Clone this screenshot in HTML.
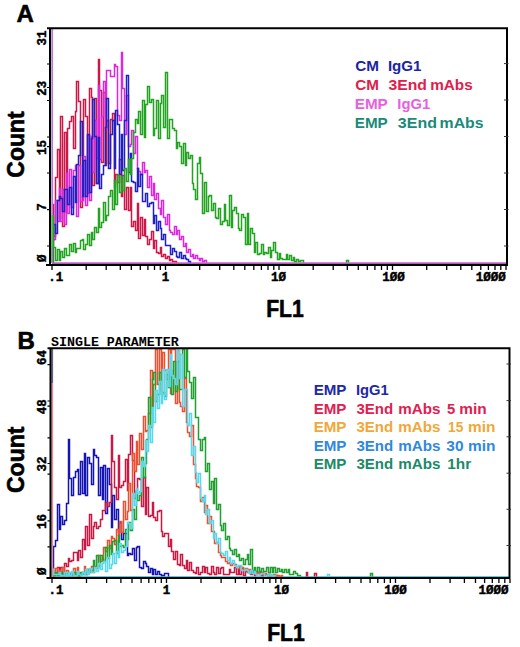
<!DOCTYPE html>
<html><head><meta charset="utf-8"><style>
html,body{margin:0;padding:0;background:#fff;width:520px;height:647px;overflow:hidden}
svg{display:block}
</style></head><body>
<svg width="520" height="647" viewBox="0 0 520 647">
<path d="M52 263.2H506" stroke="#a020a8" stroke-width="1.3" fill="none"/>
<path d="M52 576.6H509" stroke="#50d0e0" stroke-width="1.2" fill="none"/>
<g fill="none" stroke-width="1.5">
<path d="M52.6 262.5V204.5H53.5V236.5H55.5V177.5H57.5V149.5H59.5V218.5H60.5V116.5H62.5V226.5H64.5V132.5H66.5V212.5H67.5V128.5H69.5V121.5H71.5V116.5H73.5V148.5H75.5V111.5H76.5V81.5H78.5V101.5H80.5V207.5H82.5V197.5H83.5V99.5H85.5V116.5H87.5V193.5H89.5V88.5H91.5V97.5H92.5V185.5H94.5V98.5H96.5V183.5H98.5V59.5H99.5V90.5H101.5V162.5H103.5V92.5H105.5V165.5H106.5V120.5H108.5V163.5H110.5V119.5H112.5V113.5H114.5V187.5H115.5V174.5H117.5V182.5H119.5V159.5H121.5V196.5H122.5V175.5H124.5V209.5H126.5V187.5H128.5V210.5H130.5V187.5H131.5V226.5H133.5V221.5H135.5V230.5H137.5V203.5H138.5V238.5H140.5V217.5H142.5V235.5H144.5V219.5H145.5V236.5H147.5V244.5H149.5V239.5H151.5V231.5H153.5V248.5H154.5V240.5H156.5V252.5H158.5V253.5H160.5V247.5H161.5V256.5H163.5V254.5H165.5V258.5H167.5V256.5H169.5V260.5H170.5V259.5H172.5V261.5H176.5V262.5" stroke="#cc1848"/>
<path d="M53.5 262.5V239.5H55.5V200.5H57.5V221.5H59.5V188.5H60.5V221.5H62.5V189.5H64.5V224.5H66.5V173.5H67.5V213.5H69.5V169.5H71.5V207.5H73.5V170.5H75.5V165.5H76.5V216.5H78.5V165.5H80.5V201.5H82.5V200.5H83.5V156.5H85.5V205.5H87.5V135.5H89.5V200.5H91.5V136.5H92.5V172.5H94.5V120.5H96.5V158.5H98.5V85.5H99.5V159.5H101.5V116.5H103.5V81.5H105.5V128.5H106.5V70.5H110.5V76.5H114.5V64.5H115.5V66.5H117.5V115.5H119.5V120.5H121.5V52.5H122.5V88.5H124.5V134.5H126.5V95.5H128.5V146.5H130.5V144.5H131.5V130.5H133.5V153.5H135.5V136.5H137.5V168.5H138.5V171.5H140.5V174.5H142.5V162.5H144.5V172.5H145.5V170.5H147.5V187.5H149.5V176.5H151.5V195.5H153.5V183.5H154.5V199.5H156.5V193.5H158.5V208.5H160.5V214.5H161.5V200.5H163.5V217.5H165.5V224.5H167.5V214.5H169.5V230.5H170.5V232.5H172.5V234.5H174.5V226.5H176.5V234.5H177.5V230.5H179.5V239.5H181.5V236.5H183.5V246.5H185.5V243.5H186.5V252.5H188.5V249.5H190.5V256.5H192.5V254.5H193.5V258.5H195.5V255.5H197.5V258.5H199.5V260.5H200.5V258.5H202.5V261.5H204.5V260.5H206.5V262.5" stroke="#dc28dc"/>
<path d="M52.6 262.5V240.5H53.5V224.5H55.5V233.5H57.5V200.5H59.5V196.5H60.5V198.5H62.5V211.5H64.5V189.5H67.5V204.5H69.5V187.5H71.5V214.5H73.5V176.5H75.5V202.5H76.5V164.5H78.5V155.5H80.5V121.5H82.5V196.5H83.5V160.5H85.5V196.5H87.5V134.5H89.5V192.5H91.5V138.5H92.5V99.5H94.5V136.5H96.5V183.5H98.5V137.5H99.5V188.5H101.5V174.5H103.5V165.5H105.5V127.5H106.5V98.5H108.5V168.5H110.5V134.5H112.5V120.5H114.5V168.5H115.5V110.5H117.5V124.5H119.5V174.5H121.5V134.5H122.5V170.5H124.5V120.5H126.5V75.5H128.5V172.5H130.5V153.5H131.5V181.5H133.5V182.5H135.5V191.5H137.5V168.5H138.5V186.5H140.5V174.5H142.5V201.5H145.5V193.5H147.5V206.5H149.5V203.5H151.5V202.5H153.5V223.5H154.5V215.5H156.5V230.5H158.5V221.5H160.5V228.5H161.5V239.5H163.5V234.5H165.5V245.5H170.5V254.5H172.5V248.5H174.5V251.5H176.5V256.5H177.5V257.5H179.5V252.5H181.5V258.5H183.5V255.5H185.5V258.5H186.5V259.5H188.5V261.5H190.5V262.5" stroke="#2020c4"/>
<path d="M52.6 262.5V215.5H53.5V247.5H55.5V260.5H57.5V249.5H59.5V260.5H60.5V251.5H62.5V257.5H64.5V248.5H66.5V255.5H69.5V244.5H71.5V251.5H73.5V243.5H75.5V252.5H76.5V248.5H80.5V240.5H82.5V239.5H83.5V249.5H85.5V244.5H87.5V234.5H89.5V245.5H91.5V232.5H92.5V239.5H94.5V227.5H96.5V232.5H98.5V208.5H99.5V227.5H101.5V222.5H103.5V202.5H105.5V220.5H106.5V215.5H108.5V196.5H110.5V190.5H112.5V209.5H114.5V180.5H115.5V204.5H117.5V175.5H119.5V192.5H121.5V176.5H122.5V190.5H124.5V168.5H126.5V181.5H128.5V159.5H130.5V174.5H131.5V158.5H133.5V132.5H135.5V119.5H137.5V123.5H138.5V111.5H140.5V134.5H142.5V100.5H144.5V137.5H145.5V104.5H147.5V86.5H149.5V102.5H151.5V99.5H153.5V135.5H154.5V128.5H156.5V100.5H158.5V138.5H160.5V103.5H161.5V95.5H163.5V127.5H165.5V72.5H167.5V138.5H169.5V119.5H172.5V128.5H174.5V130.5H176.5V148.5H177.5V142.5H179.5V146.5H181.5V163.5H183.5V143.5H185.5V165.5H186.5V152.5H188.5V158.5H190.5V155.5H192.5V183.5H193.5V189.5H195.5V199.5H197.5V163.5H199.5V157.5H200.5V173.5H202.5V213.5H204.5V182.5H206.5V211.5H208.5V196.5H209.5V195.5H211.5V210.5H213.5V203.5H215.5V217.5H216.5V218.5H218.5V208.5H220.5V224.5H222.5V221.5H224.5V204.5H225.5V220.5H227.5V225.5H229.5V195.5H231.5V227.5H232.5V210.5H234.5V207.5H236.5V213.5H238.5V228.5H239.5V230.5H241.5V214.5H243.5V217.5H245.5V244.5H247.5V213.5H248.5V244.5H250.5V228.5H252.5V233.5H254.5V252.5H255.5V242.5H257.5V254.5H259.5V253.5H261.5V244.5H263.5V254.5H264.5V252.5H266.5V253.5H268.5V247.5H270.5V257.5H271.5V250.5H273.5V242.5H275.5V252.5H277.5V259.5H279.5V253.5H280.5V258.5H282.5V259.5H286.5V254.5H287.5V259.5H289.5V255.5H291.5V260.5H293.5V257.5H294.5V261.5H296.5V259.5H298.5V261.5H300.5V260.5H303.5V262.5M346.5 262.5V260.5H348.5V262.5" stroke="#22a422"/>
</g>
<g fill="none" stroke-width="1.5">
<path d="M53.5 576.5V546.5H55.5V540.5H57.5V504.5H59.5V529.5H60.5V516.5H62.5V524.5H64.5V520.5H66.5V503.5H68.5V439.5H69.5V478.5H71.5V495.5H73.5V477.5H75.5V471.5H77.5V469.5H78.5V494.5H80.5V461.5H82.5V493.5H84.5V453.5H85.5V495.5H87.5V457.5H89.5V463.5H91.5V484.5H93.5V449.5H94.5V455.5H96.5V457.5H98.5V495.5H100.5V467.5H102.5V499.5H103.5V465.5H105.5V513.5H107.5V468.5H109.5V484.5H111.5V527.5H112.5V495.5H114.5V519.5H116.5V509.5H118.5V532.5H119.5V522.5H121.5V539.5H123.5V533.5H127.5V555.5H128.5V553.5H130.5V554.5H132.5V548.5H134.5V560.5H136.5V547.5H137.5V546.5H139.5V567.5H141.5V568.5H143.5V561.5H145.5V563.5H146.5V566.5H148.5V572.5H150.5V568.5H152.5V574.5H153.5V569.5H155.5V574.5H157.5V571.5H159.5V574.5H161.5V575.5H164.5V573.5H168.5V576.5" stroke="#1414b4"/>
<path d="M53.5 576.5V574.5H55.5V573.5H57.5V567.5H59.5V571.5H60.5V567.5H62.5V575.5H64.5V563.5H66.5V566.5H68.5V558.5H69.5V561.5H71.5V560.5H73.5V552.5H77.5V560.5H78.5V550.5H80.5V557.5H82.5V539.5H84.5V549.5H85.5V526.5H87.5V545.5H89.5V514.5H91.5V538.5H93.5V526.5H94.5V522.5H96.5V528.5H98.5V526.5H100.5V519.5H102.5V510.5H105.5V502.5H107.5V506.5H109.5V502.5H111.5V435.5H112.5V461.5H114.5V487.5H116.5V499.5H118.5V455.5H119.5V487.5H121.5V485.5H123.5V481.5H125.5V459.5H127.5V490.5H128.5V454.5H130.5V435.5H132.5V460.5H134.5V498.5H136.5V490.5H137.5V478.5H139.5V479.5H141.5V506.5H143.5V477.5H145.5V514.5H146.5V487.5H148.5V516.5H150.5V515.5H152.5V502.5H153.5V517.5H155.5V520.5H157.5V511.5H159.5V510.5H161.5V531.5H162.5V536.5H164.5V533.5H168.5V546.5H170.5V539.5H171.5V551.5H173.5V559.5H175.5V551.5H177.5V564.5H179.5V565.5H180.5V554.5H182.5V565.5H184.5V568.5H186.5V560.5H187.5V570.5H189.5V562.5H191.5V570.5H193.5V572.5H195.5V573.5H196.5V567.5H198.5V574.5H200.5V572.5H202.5V566.5H204.5V572.5H205.5V567.5H207.5V573.5H209.5V574.5H211.5V566.5H213.5V572.5H214.5V574.5H216.5V567.5H218.5V573.5H220.5V568.5H221.5V567.5H223.5V574.5H229.5V569.5H230.5V572.5H234.5V567.5H236.5V574.5H238.5V569.5H239.5V574.5H241.5V568.5H243.5V575.5H245.5V571.5H247.5V570.5H250.5V574.5H252.5V571.5H254.5V575.5H255.5V571.5H257.5V574.5H259.5V572.5H261.5V575.5H263.5V573.5H264.5V575.5H268.5V574.5H270.5V576.5M275.5 576.5V575.5H277.5V576.5M306.5 576.5V572.5H307.5V576.5M314.5 576.5V573.5H316.5V576.5" stroke="#c81844"/>
<path d="M52.6 576.5V568.5H53.5V575.5H55.5V568.5H57.5V575.5H59.5V570.5H60.5V573.5H62.5V567.5H64.5V573.5H66.5V570.5H68.5V575.5H69.5V573.5H71.5V575.5H73.5V568.5H75.5V575.5H77.5V567.5H78.5V576.5H80.5V574.5H82.5V572.5H84.5V566.5H85.5V574.5H87.5V569.5H89.5V572.5H91.5V566.5H93.5V572.5H94.5V567.5H96.5V568.5H98.5V555.5H100.5V561.5H102.5V559.5H103.5V547.5H105.5V551.5H107.5V540.5H109.5V548.5H111.5V536.5H112.5V538.5H114.5V544.5H116.5V529.5H118.5V535.5H119.5V521.5H121.5V532.5H123.5V501.5H125.5V519.5H127.5V511.5H128.5V483.5H130.5V510.5H132.5V453.5H134.5V471.5H136.5V441.5H137.5V464.5H139.5V433.5H141.5V449.5H143.5V416.5H145.5V431.5H146.5V430.5H148.5V413.5H150.5V370.5H152.5V406.5H153.5V384.5H155.5V349.5H157.5V384.5H159.5V349.5H161.5V391.5H162.5V352.5H164.5V370.5H166.5V379.5H168.5V349.5H170.5V393.5H171.5V349.5H175.5V403.5H177.5V350.5H179.5V402.5H180.5V406.5H182.5V411.5H184.5V378.5H186.5V422.5H187.5V432.5H189.5V436.5H191.5V425.5H193.5V464.5H195.5V478.5H196.5V486.5H198.5V487.5H200.5V501.5H202.5V497.5H204.5V512.5H205.5V505.5H207.5V523.5H209.5V516.5H211.5V531.5H214.5V543.5H216.5V542.5H218.5V552.5H220.5V555.5H221.5V557.5H225.5V561.5H227.5V563.5H229.5V562.5H230.5V565.5H232.5V563.5H234.5V564.5H236.5V567.5H238.5V568.5H239.5V566.5H241.5V567.5H243.5V570.5H245.5V568.5H247.5V572.5H248.5V569.5H250.5V572.5H252.5V570.5H254.5V571.5H255.5V574.5H257.5V572.5H259.5V574.5H261.5V572.5H263.5V575.5H264.5V573.5H266.5V575.5H268.5V574.5H270.5V575.5H273.5V574.5H275.5V575.5H279.5V576.5H281.5V575.5H282.5V576.5" stroke="#ec5030"/>
<path d="M52.6 576.5V572.5H53.5V575.5H55.5V572.5H57.5V575.5H60.5V572.5H62.5V575.5H64.5V573.5H66.5V575.5H68.5V572.5H69.5V575.5H73.5V572.5H75.5V575.5H77.5V572.5H78.5V575.5H80.5V572.5H82.5V574.5H84.5V572.5H85.5V574.5H87.5V569.5H89.5V570.5H93.5V560.5H94.5V566.5H96.5V555.5H98.5V566.5H100.5V555.5H102.5V559.5H103.5V561.5H105.5V547.5H107.5V558.5H109.5V545.5H111.5V554.5H112.5V541.5H114.5V540.5H116.5V553.5H118.5V535.5H119.5V546.5H121.5V545.5H123.5V547.5H125.5V529.5H127.5V539.5H128.5V522.5H130.5V530.5H132.5V509.5H134.5V519.5H136.5V491.5H137.5V500.5H139.5V495.5H141.5V457.5H143.5V477.5H145.5V463.5H146.5V439.5H148.5V397.5H150.5V427.5H152.5V379.5H153.5V372.5H155.5V401.5H157.5V394.5H159.5V372.5H161.5V394.5H162.5V392.5H164.5V396.5H166.5V374.5H168.5V387.5H170.5V370.5H171.5V394.5H173.5V361.5H175.5V391.5H177.5V361.5H179.5V389.5H182.5V349.5H184.5V377.5H186.5V349.5H187.5V371.5H189.5V382.5H191.5V398.5H193.5V377.5H195.5V417.5H198.5V439.5H200.5V450.5H202.5V439.5H204.5V437.5H205.5V471.5H207.5V463.5H209.5V489.5H211.5V481.5H213.5V503.5H214.5V478.5H216.5V509.5H218.5V504.5H220.5V525.5H221.5V530.5H223.5V523.5H225.5V539.5H227.5V536.5H229.5V548.5H230.5V550.5H232.5V554.5H234.5V549.5H236.5V556.5H238.5V554.5H239.5V560.5H241.5V558.5H243.5V564.5H245.5V559.5H247.5V554.5H248.5V564.5H250.5V549.5H252.5V571.5H254.5V567.5H255.5V571.5H257.5V567.5H259.5V571.5H261.5V568.5H263.5V571.5H266.5V567.5H268.5V572.5H270.5V567.5H272.5V572.5H273.5V567.5H275.5V572.5H277.5V568.5H279.5V571.5H281.5V569.5H282.5V572.5H284.5V569.5H286.5V572.5H288.5V569.5H289.5V574.5H293.5V571.5H295.5V573.5H297.5V575.5H300.5V576.5M370.5 576.5V573.5H372.5V576.5" stroke="#1fa030"/>
<path d="M52.6 576.5V569.5H53.5V574.5H59.5V572.5H60.5V575.5H64.5V572.5H66.5V575.5H68.5V572.5H69.5V575.5H71.5V571.5H73.5V575.5H77.5V571.5H78.5V574.5H80.5V575.5H82.5V572.5H84.5V574.5H85.5V569.5H87.5V574.5H89.5V568.5H91.5V572.5H94.5V567.5H96.5V571.5H98.5V563.5H100.5V569.5H102.5V563.5H103.5V561.5H105.5V571.5H107.5V557.5H109.5V568.5H111.5V564.5H112.5V553.5H114.5V563.5H116.5V551.5H118.5V557.5H119.5V543.5H121.5V552.5H123.5V550.5H125.5V546.5H127.5V522.5H128.5V523.5H130.5V528.5H132.5V493.5H134.5V505.5H136.5V488.5H137.5V493.5H139.5V491.5H141.5V461.5H143.5V466.5H145.5V440.5H146.5V451.5H148.5V425.5H150.5V442.5H152.5V407.5H153.5V422.5H155.5V390.5H157.5V408.5H159.5V381.5H161.5V403.5H162.5V369.5H164.5V399.5H166.5V369.5H168.5V386.5H170.5V354.5H171.5V375.5H173.5V378.5H175.5V384.5H177.5V349.5H179.5V378.5H180.5V354.5H182.5V406.5H184.5V389.5H187.5V425.5H189.5V413.5H191.5V455.5H193.5V446.5H195.5V472.5H196.5V482.5H198.5V473.5H200.5V498.5H202.5V501.5H204.5V495.5H205.5V514.5H207.5V509.5H209.5V523.5H211.5V520.5H213.5V538.5H214.5V533.5H216.5V543.5H218.5V538.5H220.5V552.5H221.5V553.5H223.5V555.5H225.5V551.5H227.5V560.5H229.5V557.5H230.5V563.5H232.5V560.5H234.5V565.5H236.5V567.5H238.5V565.5H241.5V570.5H245.5V569.5H247.5V570.5H248.5V573.5H250.5V570.5H252.5V573.5H254.5V571.5H255.5V574.5H261.5V573.5H264.5V576.5H266.5V575.5H268.5V574.5H270.5V575.5H275.5V576.5M327.5 576.5V574.5H329.5V576.5" stroke="#58d8ec"/>
</g>
<path d="M52.2 28.5V215" stroke="#b47cd4" stroke-width="1.8" fill="none"/>
<path d="M52.2 215V263" stroke="#50b050" stroke-width="1.8" fill="none"/>
<path d="M52.2 349V383" stroke="#606088" stroke-width="1.8" fill="none"/>
<path d="M52.2 383V577" stroke="#e48898" stroke-width="1.8" fill="none"/>
<path d="M47 28.3H508M507 28.3V265M50 27.3V266M46 265H508" stroke="#000" stroke-width="2" fill="none"/>
<path d="M52.0 266V270M86.2 266V270M106.2 266V270M120.3 266V270M131.3 266V270M140.3 266V270M147.9 266V270M154.5 266V270M160.3 266V270M165.5 266V270M199.7 266V270M219.7 266V270M233.8 266V270M244.8 266V270M253.8 266V270M261.4 266V270M268.0 266V270M273.8 266V270M279.0 266V270M313.2 266V270M333.2 266V270M347.3 266V270M358.3 266V270M367.3 266V270M374.9 266V270M381.5 266V270M387.3 266V270M392.5 266V270M426.7 266V270M446.7 266V270M460.8 266V270M471.8 266V270M480.8 266V270M488.4 266V270M495.0 266V270M500.8 266V270M506.0 266V270" stroke="#000" stroke-width="1.3" fill="none"/>
<path d="M47 64H50M47 87.5H50M47 100.5H50M47 137H50M47 146.7H50M47 173H50M47 209.6H50M47 246H50" stroke="#000" stroke-width="1.2" fill="none"/>
<path d="M504 63.6H508.5M504 100H508.5M504 136.5H508.5M504 173H508.5M504 209.5H508.5M504 246H508.5" stroke="#333" stroke-width="1" fill="none"/>
<path d="M47.5 348.3H510.5M509.5 348.3V578M50.5 347.3V579M46.5 578H510.5" stroke="#000" stroke-width="2" fill="none"/>
<path d="M52.0 579V583M86.5 579V583M106.6 579V583M120.9 579V583M132.0 579V583M141.1 579V583M148.8 579V583M155.4 579V583M161.3 579V583M166.5 579V583M201.0 579V583M221.1 579V583M235.4 579V583M246.5 579V583M255.6 579V583M263.3 579V583M269.9 579V583M275.8 579V583M281.0 579V583M315.5 579V583M335.6 579V583M349.9 579V583M361.0 579V583M370.1 579V583M377.8 579V583M384.4 579V583M390.3 579V583M395.5 579V583M430.0 579V583M450.1 579V583M464.4 579V583M475.5 579V583M484.6 579V583M492.3 579V583M498.9 579V583M504.8 579V583M510.0 579V583" stroke="#000" stroke-width="1.3" fill="none"/>
<path d="M47.5 364.6H50.5M47.5 401H50.5M47.5 406.2H50.5M47.5 437.8H50.5M47.5 463.5H50.5M47.5 474.2H50.5M47.5 510.2H50.5M47.5 520.9H50.5M47.5 546.8H50.5" stroke="#000" stroke-width="1.2" fill="none"/>
<path d="M506.5 364H511.0M506.5 400.6H511.0M506.5 436.8H511.0M506.5 473.2H511.0M506.5 509.3H511.0M506.5 545.5H511.0" stroke="#333" stroke-width="1" fill="none"/>
<text transform="translate(45.5 38) rotate(-90)" text-anchor="middle" style="font-family:'Liberation Mono',monospace;font-weight:bold;stroke:#000;stroke-width:0.45px;stroke-linejoin:round;font-size:12.5px">31</text>
<text transform="translate(45.5 88.2) rotate(-90)" text-anchor="middle" style="font-family:'Liberation Mono',monospace;font-weight:bold;stroke:#000;stroke-width:0.45px;stroke-linejoin:round;font-size:12.5px">23</text>
<text transform="translate(45.5 147.4) rotate(-90)" text-anchor="middle" style="font-family:'Liberation Mono',monospace;font-weight:bold;stroke:#000;stroke-width:0.45px;stroke-linejoin:round;font-size:12.5px">15</text>
<text transform="translate(45.5 207) rotate(-90)" text-anchor="middle" style="font-family:'Liberation Mono',monospace;font-weight:bold;stroke:#000;stroke-width:0.45px;stroke-linejoin:round;font-size:12.5px">7</text>
<text transform="translate(45.5 258.2) rotate(-90)" text-anchor="middle" style="font-family:'Liberation Mono',monospace;font-weight:bold;stroke:#000;stroke-width:0.45px;stroke-linejoin:round;font-size:12.5px">Ø</text>
<text transform="translate(46 357.6) rotate(-90)" text-anchor="middle" style="font-family:'Liberation Mono',monospace;font-weight:bold;stroke:#000;stroke-width:0.45px;stroke-linejoin:round;font-size:12.5px">64</text>
<text transform="translate(46 406.7) rotate(-90)" text-anchor="middle" style="font-family:'Liberation Mono',monospace;font-weight:bold;stroke:#000;stroke-width:0.45px;stroke-linejoin:round;font-size:12.5px">48</text>
<text transform="translate(46 464) rotate(-90)" text-anchor="middle" style="font-family:'Liberation Mono',monospace;font-weight:bold;stroke:#000;stroke-width:0.45px;stroke-linejoin:round;font-size:12.5px">32</text>
<text transform="translate(46 521.4) rotate(-90)" text-anchor="middle" style="font-family:'Liberation Mono',monospace;font-weight:bold;stroke:#000;stroke-width:0.45px;stroke-linejoin:round;font-size:12.5px">16</text>
<text transform="translate(46 571.3) rotate(-90)" text-anchor="middle" style="font-family:'Liberation Mono',monospace;font-weight:bold;stroke:#000;stroke-width:0.45px;stroke-linejoin:round;font-size:12.5px">Ø</text>
<text x="55.7" y="281.3" text-anchor="middle" style="font-family:'Liberation Mono',monospace;font-weight:bold;stroke:#000;stroke-width:0.45px;stroke-linejoin:round;font-size:12.5px">.1</text>
<text x="165.5" y="281.3" text-anchor="middle" style="font-family:'Liberation Mono',monospace;font-weight:bold;stroke:#000;stroke-width:0.45px;stroke-linejoin:round;font-size:12.5px">1</text>
<text x="278.5" y="281.3" text-anchor="middle" style="font-family:'Liberation Mono',monospace;font-weight:bold;stroke:#000;stroke-width:0.45px;stroke-linejoin:round;font-size:12.5px">1Ø</text>
<text x="393.5" y="281.3" text-anchor="middle" style="font-family:'Liberation Mono',monospace;font-weight:bold;stroke:#000;stroke-width:0.45px;stroke-linejoin:round;font-size:12.5px">1ØØ</text>
<text x="505.8" y="281.3" text-anchor="end" style="font-family:'Liberation Mono',monospace;font-weight:bold;stroke:#000;stroke-width:0.45px;stroke-linejoin:round;font-size:12.5px">1ØØØ</text>
<text x="56" y="593.8" text-anchor="middle" style="font-family:'Liberation Mono',monospace;font-weight:bold;stroke:#000;stroke-width:0.45px;stroke-linejoin:round;font-size:12.5px">.1</text>
<text x="166.5" y="593.8" text-anchor="middle" style="font-family:'Liberation Mono',monospace;font-weight:bold;stroke:#000;stroke-width:0.45px;stroke-linejoin:round;font-size:12.5px">1</text>
<text x="281.5" y="593.8" text-anchor="middle" style="font-family:'Liberation Mono',monospace;font-weight:bold;stroke:#000;stroke-width:0.45px;stroke-linejoin:round;font-size:12.5px">1Ø</text>
<text x="395.5" y="593.8" text-anchor="middle" style="font-family:'Liberation Mono',monospace;font-weight:bold;stroke:#000;stroke-width:0.45px;stroke-linejoin:round;font-size:12.5px">1ØØ</text>
<text x="508.5" y="593.8" text-anchor="end" style="font-family:'Liberation Mono',monospace;font-weight:bold;stroke:#000;stroke-width:0.45px;stroke-linejoin:round;font-size:12.5px">1ØØØ</text>
<text x="16.5" y="22" style="font-family:'Liberation Sans',sans-serif;font-weight:bold;stroke:#000;stroke-width:0.6px;stroke-linejoin:round;font-size:24px">A</text>
<text x="17.5" y="348.8" style="font-family:'Liberation Sans',sans-serif;font-weight:bold;stroke:#000;stroke-width:0.6px;stroke-linejoin:round;font-size:24px">B</text>
<text transform="translate(24 144.5) rotate(-90)" text-anchor="middle" style="font-family:'Liberation Sans',sans-serif;font-weight:bold;stroke:#000;stroke-width:0.6px;stroke-linejoin:round;font-size:23px">Count</text>
<text transform="translate(24 459.8) rotate(-90)" text-anchor="middle" style="font-family:'Liberation Sans',sans-serif;font-weight:bold;stroke:#000;stroke-width:0.6px;stroke-linejoin:round;font-size:23px">Count</text>
<text transform="translate(285 316.7) scale(0.92 1)" text-anchor="middle" style="font-family:'Liberation Sans',sans-serif;font-weight:bold;stroke:#000;stroke-width:0.6px;stroke-linejoin:round;font-size:23px">FL1</text>
<text transform="translate(286 641.3) scale(0.92 1)" text-anchor="middle" style="font-family:'Liberation Sans',sans-serif;font-weight:bold;stroke:#000;stroke-width:0.6px;stroke-linejoin:round;font-size:23px">FL1</text>
<text x="51" y="345.9" style="font-family:'Liberation Mono',monospace;font-weight:bold;font-size:13.3px">SINGLE PARAMETER</text>
<text x="355.21" y="71" fill="#1c24a4" textLength="23.68" lengthAdjust="spacingAndGlyphs" style="font-family:'Liberation Sans',sans-serif;font-weight:bold;font-size:15.5px">CM</text>
<text x="387.93" y="71" fill="#1c24a4" textLength="33.51" lengthAdjust="spacingAndGlyphs" style="font-family:'Liberation Sans',sans-serif;font-weight:bold;font-size:15.5px">IgG1</text>
<text x="355.21" y="90.4" fill="#e0204c" textLength="23.68" lengthAdjust="spacingAndGlyphs" style="font-family:'Liberation Sans',sans-serif;font-weight:bold;font-size:15.5px">CM</text>
<text x="388.49" y="90.4" fill="#e0204c" textLength="38.42" lengthAdjust="spacingAndGlyphs" style="font-family:'Liberation Sans',sans-serif;font-weight:bold;font-size:15.5px">3End</text>
<text x="430.21" y="90.4" fill="#e0204c" textLength="42.54" lengthAdjust="spacingAndGlyphs" style="font-family:'Liberation Sans',sans-serif;font-weight:bold;font-size:15.5px">mAbs</text>
<text x="354.82" y="109" fill="#e860e0" textLength="32.96" lengthAdjust="spacingAndGlyphs" style="font-family:'Liberation Sans',sans-serif;font-weight:bold;font-size:15.5px">EMP</text>
<text x="397.35" y="109" fill="#e860e0" textLength="32.89" lengthAdjust="spacingAndGlyphs" style="font-family:'Liberation Sans',sans-serif;font-weight:bold;font-size:15.5px">IgG1</text>
<text x="354.82" y="128" fill="#1a8a78" textLength="32.96" lengthAdjust="spacingAndGlyphs" style="font-family:'Liberation Sans',sans-serif;font-weight:bold;font-size:15.5px">EMP</text>
<text x="397.89" y="128" fill="#1a8a78" textLength="39.04" lengthAdjust="spacingAndGlyphs" style="font-family:'Liberation Sans',sans-serif;font-weight:bold;font-size:15.5px">3End</text>
<text x="439.58" y="128" fill="#1a8a78" textLength="44.00" lengthAdjust="spacingAndGlyphs" style="font-family:'Liberation Sans',sans-serif;font-weight:bold;font-size:15.5px">mAbs</text>
<text x="313.68" y="395.3" fill="#2028a8" textLength="32.81" lengthAdjust="spacingAndGlyphs" style="font-family:'Liberation Sans',sans-serif;font-weight:bold;font-size:14.8px">EMP</text>
<text x="355.90" y="395.3" fill="#2028a8" textLength="32.79" lengthAdjust="spacingAndGlyphs" style="font-family:'Liberation Sans',sans-serif;font-weight:bold;font-size:14.8px">IgG1</text>
<text x="313.68" y="413.7" fill="#e02050" textLength="32.81" lengthAdjust="spacingAndGlyphs" style="font-family:'Liberation Sans',sans-serif;font-weight:bold;font-size:14.8px">EMP</text>
<text x="356.49" y="413.7" fill="#e02050" textLength="36.70" lengthAdjust="spacingAndGlyphs" style="font-family:'Liberation Sans',sans-serif;font-weight:bold;font-size:14.8px">3End</text>
<text x="398.17" y="413.7" fill="#e02050" textLength="42.26" lengthAdjust="spacingAndGlyphs" style="font-family:'Liberation Sans',sans-serif;font-weight:bold;font-size:14.8px">mAbs</text>
<text x="447.00" y="413.7" fill="#e02050" textLength="8.23" lengthAdjust="spacingAndGlyphs" style="font-family:'Liberation Sans',sans-serif;font-weight:bold;font-size:14.8px">5</text>
<text x="459.26" y="413.7" fill="#e02050" textLength="27.39" lengthAdjust="spacingAndGlyphs" style="font-family:'Liberation Sans',sans-serif;font-weight:bold;font-size:14.8px">min</text>
<text x="313.68" y="432.2" fill="#f0a838" textLength="32.81" lengthAdjust="spacingAndGlyphs" style="font-family:'Liberation Sans',sans-serif;font-weight:bold;font-size:14.8px">EMP</text>
<text x="356.49" y="432.2" fill="#f0a838" textLength="36.70" lengthAdjust="spacingAndGlyphs" style="font-family:'Liberation Sans',sans-serif;font-weight:bold;font-size:14.8px">3End</text>
<text x="398.17" y="432.2" fill="#f0a838" textLength="42.26" lengthAdjust="spacingAndGlyphs" style="font-family:'Liberation Sans',sans-serif;font-weight:bold;font-size:14.8px">mAbs</text>
<text x="448.07" y="432.2" fill="#f0a838" textLength="15.26" lengthAdjust="spacingAndGlyphs" style="font-family:'Liberation Sans',sans-serif;font-weight:bold;font-size:14.8px">15</text>
<text x="467.95" y="432.2" fill="#f0a838" textLength="27.50" lengthAdjust="spacingAndGlyphs" style="font-family:'Liberation Sans',sans-serif;font-weight:bold;font-size:14.8px">min</text>
<text x="313.68" y="450.5" fill="#3088e0" textLength="32.81" lengthAdjust="spacingAndGlyphs" style="font-family:'Liberation Sans',sans-serif;font-weight:bold;font-size:14.8px">EMP</text>
<text x="356.49" y="450.5" fill="#3088e0" textLength="36.70" lengthAdjust="spacingAndGlyphs" style="font-family:'Liberation Sans',sans-serif;font-weight:bold;font-size:14.8px">3End</text>
<text x="398.17" y="450.5" fill="#3088e0" textLength="42.26" lengthAdjust="spacingAndGlyphs" style="font-family:'Liberation Sans',sans-serif;font-weight:bold;font-size:14.8px">mAbs</text>
<text x="446.38" y="450.5" fill="#3088e0" textLength="17.21" lengthAdjust="spacingAndGlyphs" style="font-family:'Liberation Sans',sans-serif;font-weight:bold;font-size:14.8px">30</text>
<text x="467.95" y="450.5" fill="#3088e0" textLength="27.50" lengthAdjust="spacingAndGlyphs" style="font-family:'Liberation Sans',sans-serif;font-weight:bold;font-size:14.8px">min</text>
<text x="313.68" y="469" fill="#1a8a68" textLength="32.81" lengthAdjust="spacingAndGlyphs" style="font-family:'Liberation Sans',sans-serif;font-weight:bold;font-size:14.8px">EMP</text>
<text x="356.49" y="469" fill="#1a8a68" textLength="36.70" lengthAdjust="spacingAndGlyphs" style="font-family:'Liberation Sans',sans-serif;font-weight:bold;font-size:14.8px">3End</text>
<text x="398.17" y="469" fill="#1a8a68" textLength="42.26" lengthAdjust="spacingAndGlyphs" style="font-family:'Liberation Sans',sans-serif;font-weight:bold;font-size:14.8px">mAbs</text>
<text x="447.27" y="469" fill="#1a8a68" textLength="23.87" lengthAdjust="spacingAndGlyphs" style="font-family:'Liberation Sans',sans-serif;font-weight:bold;font-size:14.8px">1hr</text>
</svg>
</body></html>
